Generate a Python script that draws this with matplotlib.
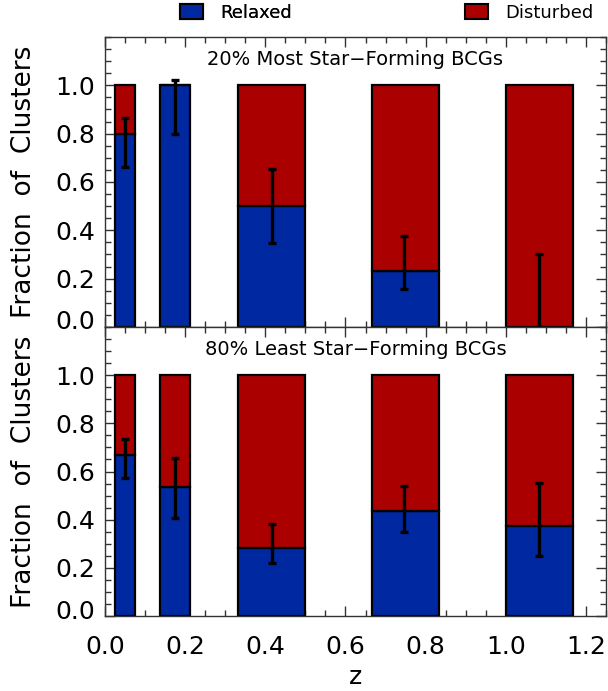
import numpy as np
import matplotlib
matplotlib.use("Agg")
import matplotlib.pyplot as plt
from matplotlib.patches import Patch
from matplotlib.ticker import MultipleLocator
import matplotlib.transforms as mtransforms

plt.rcParams['font.family'] = ['DejaVu Sans']

# redshift bins (left / right edges)
z_lo = [0.025, 0.1375, 0.333, 0.667, 1.0]
z_hi = [0.075, 0.2125, 0.5, 0.833, 1.167]
z_err = [0.05, 0.175, 0.417, 0.746, 1.083]

# 20% most star-forming BCGs
top_relaxed = [0.80, 1.00, 0.50, 0.233, 0.0]
top_err_hi = [0.864, 1.02, 0.654, 0.376, 0.302]
top_err_lo = [0.664, 0.797, 0.346, 0.158, 0.0]

# 80% least star-forming BCGs
bot_relaxed = [0.667, 0.537, 0.281, 0.438, 0.373]
bot_err_hi = [0.737, 0.658, 0.38, 0.539, 0.551]
bot_err_lo = [0.574, 0.405, 0.219, 0.35, 0.249]

titles = ["20% Most Star\u2212Forming BCGs", "80% Least Star\u2212Forming BCGs"]
yticks = [0.0, 0.2, 0.4, 0.6, 0.8, 1.0]
xticks = [0.0, 0.2, 0.4, 0.6, 0.8, 1.0, 1.2]

blue = "#0028a0"
red = "#aa0000"

fig = plt.figure(figsize=(6.08, 6.91), dpi=100)
ax1 = fig.add_axes([0.1727, 0.5268, 0.824, 0.4197])
ax2 = fig.add_axes([0.1727, 0.1085, 0.824, 0.4183], sharex=ax1)

panels = [(ax1, top_relaxed, top_err_hi, top_err_lo),
          (ax2, bot_relaxed, bot_err_hi, bot_err_lo)]

for i, (ax, rel, ehi, elo) in enumerate(panels):
    lo = np.array(z_lo)
    hi = np.array(z_hi)
    rel = np.array(rel)
    width = hi - lo
    ax.bar(lo, rel, width=width, align='edge', color=blue,
           edgecolor='black', linewidth=1.6, zorder=2)
    ax.bar(lo, 1 - rel, width=width, bottom=rel, align='edge', color=red,
           edgecolor='black', linewidth=1.6, zorder=2)
    yerr = [rel - np.array(elo), np.array(ehi) - rel]
    ax.errorbar(z_err, rel, yerr=yerr, fmt='none', ecolor='black',
                elinewidth=2.4, capsize=3, capthick=2.4, zorder=3)
    ax.set_xlim(0, 1.25)
    ax.set_ylim(0, 1.2)
    ax.set_yticks(yticks)
    ax.set_yticklabels(["%.1f" % v for v in yticks])
    ax.yaxis.set_minor_locator(MultipleLocator(0.05))
    ax.xaxis.set_major_locator(MultipleLocator(0.2))
    ax.xaxis.set_minor_locator(MultipleLocator(0.05))
    ax.tick_params(which='both', direction='in', top=True, right=True,
                   labelsize=18, color='#333333')
    ax.tick_params(axis='y', pad=7)
    ax.tick_params(which='major', length=7, width=1)
    ax.tick_params(which='minor', length=4, width=1)
    for s in ax.spines.values():
        s.set_linewidth(1)
        s.set_color('#333333')
    ax.set_ylabel("Fraction  of  Clusters", fontsize=19, labelpad=13)
    ax.text(0.5, 1.105, titles[i],
            transform=mtransforms.blended_transform_factory(ax.transAxes, ax.transData),
            ha='center', va='center', fontsize=14)
    # nudge the 0.0 label up like the original
    lbl = ax.get_yticklabels()[0]
    lbl.set_transform(lbl.get_transform() +
                      mtransforms.ScaledTranslation(0, 7 / 100, fig.dpi_scale_trans))

plt.setp(ax1.get_xticklabels(), visible=False)
ax2.set_xticks(xticks)
ax2.set_xticklabels(["%.1f" % v for v in xticks])
ax2.tick_params(axis='x', pad=14)
ax2.set_xlabel("z", fontsize=18, labelpad=4)

leg_kw = dict(frameon=False, fontsize=13, handlelength=1.25, handleheight=0.9,
              handletextpad=1.0, loc='center left', borderaxespad=0, borderpad=0)
leg1 = fig.legend(handles=[Patch(facecolor=blue, edgecolor='black', linewidth=1.5, label="Relaxed")],
                  bbox_to_anchor=(0.296, 0.981), **leg_kw)
leg2 = fig.legend(handles=[Patch(facecolor=red, edgecolor='black', linewidth=1.5, label="Disturbed")],
                  bbox_to_anchor=(0.765, 0.981), **leg_kw)
fig.add_artist(leg1)

fig.savefig("out.png", dpi=100)
